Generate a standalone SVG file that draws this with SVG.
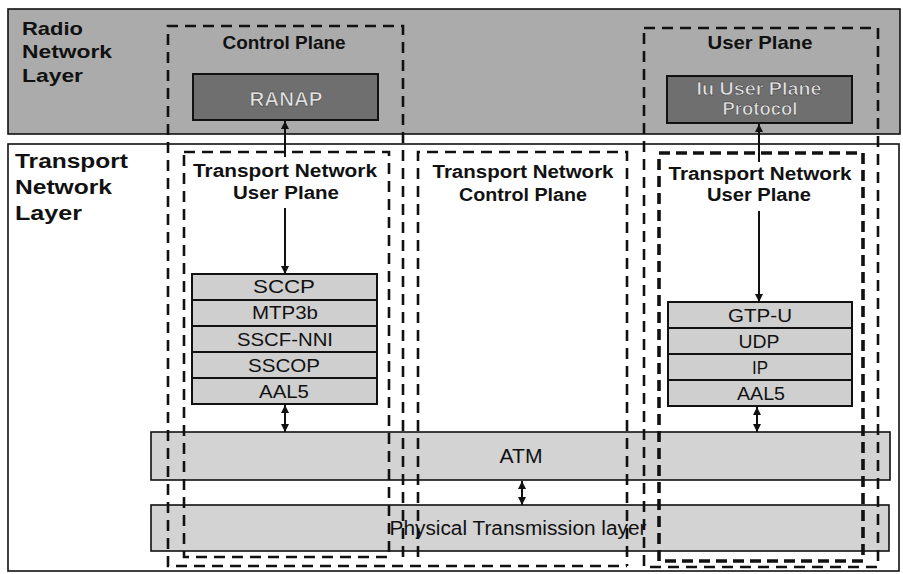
<svg xmlns="http://www.w3.org/2000/svg" width="903" height="574" viewBox="0 0 903 574">
<style>
.lbl{font-family:"Liberation Sans",Arial,sans-serif;font-weight:bold;fill:#111}
.reg{font-family:"Liberation Sans",Arial,sans-serif;fill:#111}
.light{font-family:"Liberation Sans",Arial,sans-serif;font-weight:bold;fill:#e2e2e2;stroke:#333;stroke-width:0.5}
.dash{fill:none;stroke:#111;stroke-width:2.6;stroke-dasharray:11 7}
.dashb{fill:none;stroke:#111;stroke-width:3.6;stroke-dasharray:11 6}
.layer{fill:#cfcfcf;stroke:#111;stroke-width:2}
.bar{fill:#d3d3d3;stroke:#111;stroke-width:1.6}
.conn{fill:none;stroke:#111;stroke-width:2}
</style>
<defs>
<marker id="ah" viewBox="0 0 8 8" refX="8" refY="4" markerWidth="8" markerHeight="8" markerUnits="userSpaceOnUse" orient="auto-start-reverse">
<path d="M0,0 L8,4 L0,8 z" fill="#111"/>
</marker>
</defs>

<g id="radio-network-layer">
<rect x="8" y="9" width="892" height="125" fill="#ababab" stroke="#111" stroke-width="1.6"/>
<text class="lbl" font-size="19" x="22" y="35" textLength="61" lengthAdjust="spacingAndGlyphs">Radio</text>
<text class="lbl" font-size="19" x="22" y="58" textLength="90" lengthAdjust="spacingAndGlyphs">Network</text>
<text class="lbl" font-size="19" x="22" y="82" textLength="61" lengthAdjust="spacingAndGlyphs">Layer</text>
</g>

<g id="transport-network-layer">
<rect x="8" y="144" width="891" height="427" fill="#ffffff" stroke="#111" stroke-width="1.6"/>
<text class="lbl" font-size="20" x="15" y="168" textLength="113" lengthAdjust="spacingAndGlyphs">Transport</text>
<text class="lbl" font-size="20" x="15" y="194" textLength="97" lengthAdjust="spacingAndGlyphs">Network</text>
<text class="lbl" font-size="20" x="15" y="220" textLength="67" lengthAdjust="spacingAndGlyphs">Layer</text>
</g>

<g id="ranap">
<rect x="193" y="74" width="185" height="46" fill="#6f6f6f" stroke="#111" stroke-width="2"/>
<text class="light" font-size="20" x="286" y="106" text-anchor="middle" textLength="73" lengthAdjust="spacingAndGlyphs">RANAP</text>
</g>

<g id="iu-up-protocol">
<rect x="667" y="76" width="185" height="47" fill="#6f6f6f" stroke="#111" stroke-width="2"/>
<text class="light" font-size="19" x="759" y="95" text-anchor="middle" textLength="125" lengthAdjust="spacingAndGlyphs">Iu User Plane</text>
<text class="light" font-size="19" x="760" y="115" text-anchor="middle" textLength="75" lengthAdjust="spacingAndGlyphs">Protocol</text>
</g>

<g id="atm">
<rect class="bar" x="151" y="432" width="739" height="48"/>
<text class="reg" font-size="20" x="521" y="463" text-anchor="middle" textLength="43" lengthAdjust="spacingAndGlyphs">ATM</text>
</g>

<g id="physical-transmission-layer">
<rect class="bar" x="151" y="505" width="738" height="46"/>
<text class="reg" font-size="20" x="518" y="535" text-anchor="middle" textLength="257" lengthAdjust="spacingAndGlyphs">Physical Transmission layer</text>
</g>

<g id="stack-left">
<g id="sccp"><rect class="layer" x="192" y="274" width="185" height="26"/><text class="reg" font-size="18" x="284" y="293" text-anchor="middle" textLength="62" lengthAdjust="spacingAndGlyphs">SCCP</text></g>
<g id="mtp3b"><rect class="layer" x="192" y="300" width="185" height="26"/><text class="reg" font-size="18" x="285" y="319" text-anchor="middle" textLength="66" lengthAdjust="spacingAndGlyphs">MTP3b</text></g>
<g id="sscf-nni"><rect class="layer" x="192" y="326" width="185" height="26"/><text class="reg" font-size="18" x="285" y="345.5" text-anchor="middle" textLength="96" lengthAdjust="spacingAndGlyphs">SSCF-NNI</text></g>
<g id="sscop"><rect class="layer" x="192" y="352" width="185" height="26"/><text class="reg" font-size="18" x="284" y="371.5" text-anchor="middle" textLength="72" lengthAdjust="spacingAndGlyphs">SSCOP</text></g>
<g id="aal5-left"><rect class="layer" x="192" y="378" width="185" height="26"/><text class="reg" font-size="18" x="284" y="397.5" text-anchor="middle" textLength="50" lengthAdjust="spacingAndGlyphs">AAL5</text></g>
</g>

<g id="stack-right">
<g id="gtp-u"><rect class="layer" x="668" y="302" width="184" height="26"/><text class="reg" font-size="18" x="760" y="321.5" text-anchor="middle" textLength="64" lengthAdjust="spacingAndGlyphs">GTP-U</text></g>
<g id="udp"><rect class="layer" x="668" y="328" width="184" height="26"/><text class="reg" font-size="18" x="759" y="347.5" text-anchor="middle" textLength="41" lengthAdjust="spacingAndGlyphs">UDP</text></g>
<g id="ip"><rect class="layer" x="668" y="354" width="184" height="26"/><text class="reg" font-size="18" x="760" y="373.5" text-anchor="middle" textLength="16" lengthAdjust="spacingAndGlyphs">IP</text></g>
<g id="aal5-right"><rect class="layer" x="668" y="380" width="184" height="26"/><text class="reg" font-size="18" x="761" y="399.5" text-anchor="middle" textLength="48" lengthAdjust="spacingAndGlyphs">AAL5</text></g>
</g>

<g id="control-plane">
<path class="dash" d="M403,557 V26 H168 V566 H627"/>
<text class="lbl" font-size="19" x="284" y="49" text-anchor="middle" textLength="123" lengthAdjust="spacingAndGlyphs">Control Plane</text>
</g>

<g id="user-plane">
<path class="dash" d="M644,28 H878 V567 H644 Z"/>
<text class="lbl" font-size="19" x="760" y="49" text-anchor="middle" textLength="105" lengthAdjust="spacingAndGlyphs">User Plane</text>
</g>

<g id="tn-user-plane-left">
<path class="dash" d="M184,152 H389 V557 H184 Z"/>
<text class="lbl" font-size="18" x="285" y="177" text-anchor="middle" textLength="184" lengthAdjust="spacingAndGlyphs">Transport Network</text>
<text class="lbl" font-size="18" x="286" y="199" text-anchor="middle" textLength="106" lengthAdjust="spacingAndGlyphs">User Plane</text>
</g>

<g id="tn-control-plane">
<path class="dash" d="M418,557 V152 H627 V566"/>
<text class="lbl" font-size="18" x="523" y="178" text-anchor="middle" textLength="181" lengthAdjust="spacingAndGlyphs">Transport Network</text>
<text class="lbl" font-size="18" x="523" y="201" text-anchor="middle" textLength="128" lengthAdjust="spacingAndGlyphs">Control Plane</text>
</g>

<g id="tn-user-plane-right">
<path class="dashb" d="M659,153 H863 V561 H659 Z"/>
<text class="lbl" font-size="18" x="760" y="180" text-anchor="middle" textLength="183" lengthAdjust="spacingAndGlyphs">Transport Network</text>
<text class="lbl" font-size="18" x="759" y="201" text-anchor="middle" textLength="104" lengthAdjust="spacingAndGlyphs">User Plane</text>
</g>

<g id="connectors">
<path class="conn" d="M285,157 V121" marker-end="url(#ah)"/>
<path class="conn" d="M285,208 V274" marker-end="url(#ah)"/>
<path class="conn" d="M759,162 V124" marker-end="url(#ah)"/>
<path class="conn" d="M759,211 V302" marker-end="url(#ah)"/>
<path class="conn" d="M285,405 V432" marker-start="url(#ah)" marker-end="url(#ah)"/>
<path class="conn" d="M757,407 V432" marker-start="url(#ah)" marker-end="url(#ah)"/>
<path class="conn" d="M522,481 V505" marker-start="url(#ah)" marker-end="url(#ah)"/>
</g>
</svg>
